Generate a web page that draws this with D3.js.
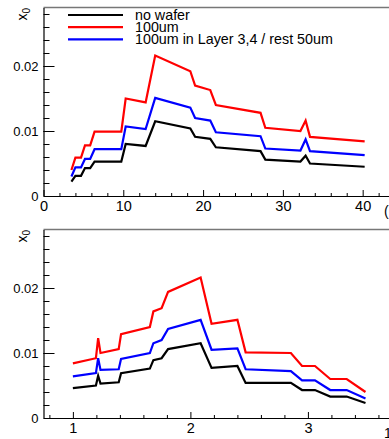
<!DOCTYPE html>
<html>
<head>
<meta charset="utf-8">
<script src="https://cdn.jsdelivr.net/npm/d3@7"></script>
<style>
  body { margin: 0; background: #fff; }
  svg { display: block; font-family: "Liberation Sans", Arial, sans-serif; }
</style>
</head>
<body>
<svg width="389" height="439"></svg>
<script>
// top panel: vs x (0..40)
const xTop = [3.5, 4.0, 4.7, 5.2, 5.85, 6.4, 9.75, 10.3, 12.8, 14.0, 18.4, 19.0, 20.9, 21.6, 27.2, 27.8, 32.2, 32.85, 33.4, 40.25];
const blackTop = [0.0022, 0.0031, 0.0031, 0.0043, 0.0043, 0.0053, 0.0053, 0.0080, 0.0077, 0.0115, 0.0104, 0.0091, 0.0088, 0.0075, 0.0069, 0.0056, 0.0053, 0.0062, 0.0050, 0.0045];
const redTop = [0.0040, 0.0059, 0.0059, 0.0078, 0.0078, 0.0099, 0.0099, 0.0150, 0.0144, 0.0216, 0.0192, 0.0170, 0.0163, 0.0140, 0.0128, 0.0105, 0.0100, 0.0116, 0.0091, 0.0084];
const blueTop = [0.0030, 0.0044, 0.0044, 0.0057, 0.0057, 0.0072, 0.0072, 0.0107, 0.0103, 0.0151, 0.0136, 0.0120, 0.0116, 0.0098, 0.0092, 0.0073, 0.0070, 0.0087, 0.0069, 0.0063];

// bottom panel: vs eta-like (1..3.5)
const xBot = [1.0, 1.196, 1.215, 1.235, 1.39, 1.41, 1.655, 1.685, 1.755, 1.81, 2.087, 2.18, 2.40, 2.47, 2.855, 2.95, 3.06, 3.19, 3.33, 3.49];
const blackBot = [0.0046, 0.0050, 0.0065, 0.0053, 0.0055, 0.0069, 0.0076, 0.0089, 0.0092, 0.0106, 0.0115, 0.0077, 0.0080, 0.0054, 0.0054, 0.0043, 0.0043, 0.0033, 0.0033, 0.0023];
const redBot = [0.0084, 0.0092, 0.0123, 0.0100, 0.0106, 0.0129, 0.0140, 0.0164, 0.0169, 0.0194, 0.0216, 0.0145, 0.0151, 0.0101, 0.0100, 0.0080, 0.0080, 0.0060, 0.0060, 0.0040];
const blueBot = [0.0064, 0.0069, 0.0092, 0.0074, 0.0075, 0.0091, 0.0100, 0.0115, 0.0120, 0.0137, 0.0151, 0.0105, 0.0107, 0.0075, 0.0072, 0.0058, 0.0058, 0.0043, 0.0043, 0.0030];

const legendLabels = ["no wafer", "100um", "100um in Layer 3,4 / rest 50um"];
const colors = ["#000000", "#ff0000", "#0000ff"];
const yMajor = [0, 0.01, 0.02];
const yMinor = d3.range(0.002, 0.029, 0.002);
const yTickLabels = ["0", "0.01", "0.02"];

const svg = d3.select("svg");

function drawPanel(opt) {
  const g = svg.append("g");
  const x = d3.scaleLinear().domain(opt.xDomain).range([43.5, 389]);
  const y = d3.scaleLinear().domain([0, 0.029]).range([opt.bottom, opt.top]);

  // frame: top (gray) and left
  g.append("line").attr("x1", 43.5).attr("x2", 389).attr("y1", opt.top).attr("y2", opt.top)
    .attr("stroke", "#777").attr("stroke-width", 1.5);

  // x axis
  const xa = g.append("g").attr("transform", `translate(0,${opt.bottom})`);
  xa.call(d3.axisBottom(x).tickValues(opt.xMajor).tickSize(-6).tickSizeOuter(0)
      .tickFormat((d, i) => opt.xLabels[i]));
  xa.append("g").call(d3.axisBottom(x).tickValues(opt.xMinor).tickSize(-3).tickSizeOuter(0).tickFormat(""))
    .select(".domain").remove();
  xa.selectAll("text").attr("font-size", 14.5).attr("fill", "#000").attr("y", 5).attr("dy", "0.71em")
    .attr("font-family", "Liberation Sans, Arial, sans-serif");
  xa.selectAll(".domain").attr("stroke", "#000").attr("stroke-width", 1.2);

  // y axis
  const ya = g.append("g").attr("transform", "translate(43.5,0)");
  ya.call(d3.axisRight(y).tickValues(yMajor).tickSize(11).tickSizeOuter(0).tickFormat((d, i) => yTickLabels[i]));
  ya.append("g").call(d3.axisRight(y).tickValues(yMinor).tickSize(6).tickSizeOuter(0).tickFormat(""))
    .select(".domain").remove();
  ya.selectAll("text").attr("x", -5).attr("text-anchor", "end").attr("font-size", 13).attr("fill", "#000")
    .attr("font-family", "Liberation Sans, Arial, sans-serif");
  ya.selectAll(".domain").attr("stroke", "#000").attr("stroke-width", 1.2);

  // y title x_0 (rotated)
  const yt = g.append("text").attr("transform", `translate(27,${opt.top + 13}) rotate(-90)`)
    .attr("font-size", 14).attr("fill", "#000");
  yt.append("tspan").text("x");
  yt.append("tspan").attr("dy", 3).attr("font-size", 10).text("0");

  // x title (cut at right edge)
  g.append("text").attr("x", opt.titleX).attr("y", opt.bottom + 20).attr("font-size", 14)
    .attr("fill", "#000").text(opt.xTitle);

  // series
  const line = d3.line().x(d => x(d[0])).y(d => y(d[1]));
  opt.series.forEach((s, i) => {
    g.append("path").datum(opt.xs.map((v, j) => [v, s[j]]))
      .attr("d", line).attr("fill", "none").attr("stroke", colors[i]).attr("stroke-width", 2.2);
  });
  return g;
}

drawPanel({
  top: 7.5, bottom: 196, xDomain: [0, 43.3],
  xMajor: [0, 10, 20, 30, 40], xLabels: ["0", "10", "20", "30", "40"],
  xMinor: d3.range(2, 44, 2).filter(v => v % 10 !== 0),
  xs: xTop, series: [blackTop, redTop, blueTop],
  xTitle: "(GeV)", titleX: 384
});

drawPanel({
  top: 229.5, bottom: 418, xDomain: [0.75, 3.69],
  xMajor: [1, 2, 3], xLabels: ["1", "2", "3"],
  xMinor: [0.8, 1.2, 1.4, 1.6, 1.8, 2.2, 2.4, 2.6, 2.8, 3.2, 3.4, 3.6],
  xs: xBot, series: [blackBot, redBot, blueBot],
  xTitle: "1", titleX: 384
});

// legend (top panel)
const legend = svg.append("g");
legendLabels.forEach((lab, i) => {
  const yy = 15 + i * 12.2;
  legend.append("line").attr("x1", 68).attr("x2", 123).attr("y1", yy).attr("y2", yy)
    .attr("stroke", colors[i]).attr("stroke-width", 2.2);
  legend.append("text").attr("x", 135).attr("y", yy + 4.5).attr("font-size", 14.3)
    .attr("fill", "#000").text(lab);
});
</script>
</body>
</html>
